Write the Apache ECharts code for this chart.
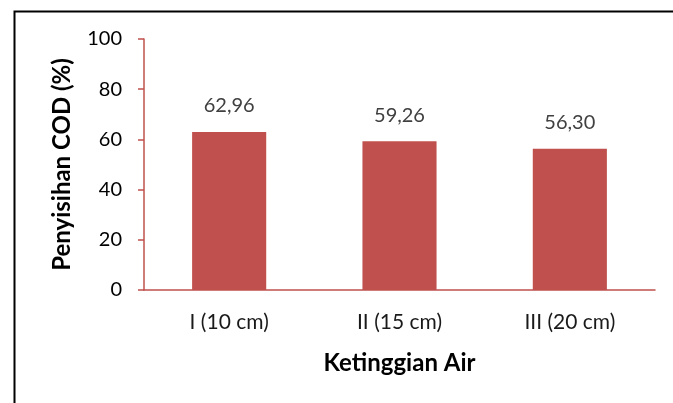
<!DOCTYPE html>
<html><head><meta charset="utf-8">
<script src="https://cdn.jsdelivr.net/npm/echarts@6/dist/echarts.min.js"></script>
<style>html,body{margin:0;padding:0;background:#fff}#c{width:673px;height:403px}</style>
</head><body><div id="c"></div>
<script>
const categories = ['I (10 cm)', 'II (15 cm)', 'III (20 cm)'];
const values = [62.96, 59.26, 56.30];
const yTicks = { min: 0, max: 100, interval: 20 };
const xTitle = 'Ketinggian Air';
const yTitle = 'Penyisihan COD (%)';

const FONT = 'Lato';
const chart = echarts.init(document.getElementById('c'), null, { renderer: 'canvas' });
chart.setOption({
  animation: false,
  backgroundColor: '#fff',
  textStyle: { fontFamily: FONT },
  graphic: [{
    type: 'rect', left: 12, top: 9, z: 100,
    shape: { x: 0, y: 0, width: 700, height: 450 },
    style: { fill: 'none', stroke: '#000', lineWidth: 2 },
    silent: true
  }],
  grid: { left: 144, right: 18, top: 39, bottom: 113, containLabel: false },
  xAxis: {
    type: 'category',
    data: categories,
    name: xTitle,
    nameLocation: 'middle',
    nameGap: 61,
    nameTextStyle: { fontFamily: FONT, fontSize: 24, fontWeight: 'bold', color: '#000' },
    axisLine: { lineStyle: { color: '#C0504D', width: 1.5 } },
    axisTick: { show: false },
    axisLabel: { fontFamily: FONT, fontSize: 21, color: '#1a1a1a', margin: 22 }
  },
  yAxis: {
    type: 'value',
    min: yTicks.min, max: yTicks.max, interval: yTicks.interval,
    name: yTitle,
    nameLocation: 'middle',
    nameGap: 70,
    nameRotate: 90,
    nameTextStyle: { fontFamily: FONT, fontSize: 24, fontWeight: 'bold', color: '#000' },
    axisLine: { show: true, lineStyle: { color: '#C0504D', width: 1.5 } },
    axisTick: { show: true, length: 6, lineStyle: { color: '#C0504D', width: 1.5 } },
    splitLine: { show: false },
    axisLabel: { fontFamily: FONT, fontSize: 20, color: '#000', margin: 22 }
  },
  series: [{
    type: 'bar',
    data: values,
    barWidth: '43.5%',
    itemStyle: { color: '#C0504D' },
    label: {
      show: true, position: 'top', distance: 16,
      fontFamily: FONT, fontSize: 20, color: '#404040',
      formatter: p => p.value.toFixed(2).replace('.', ',')
    }
  }]
});
</script></body></html>
